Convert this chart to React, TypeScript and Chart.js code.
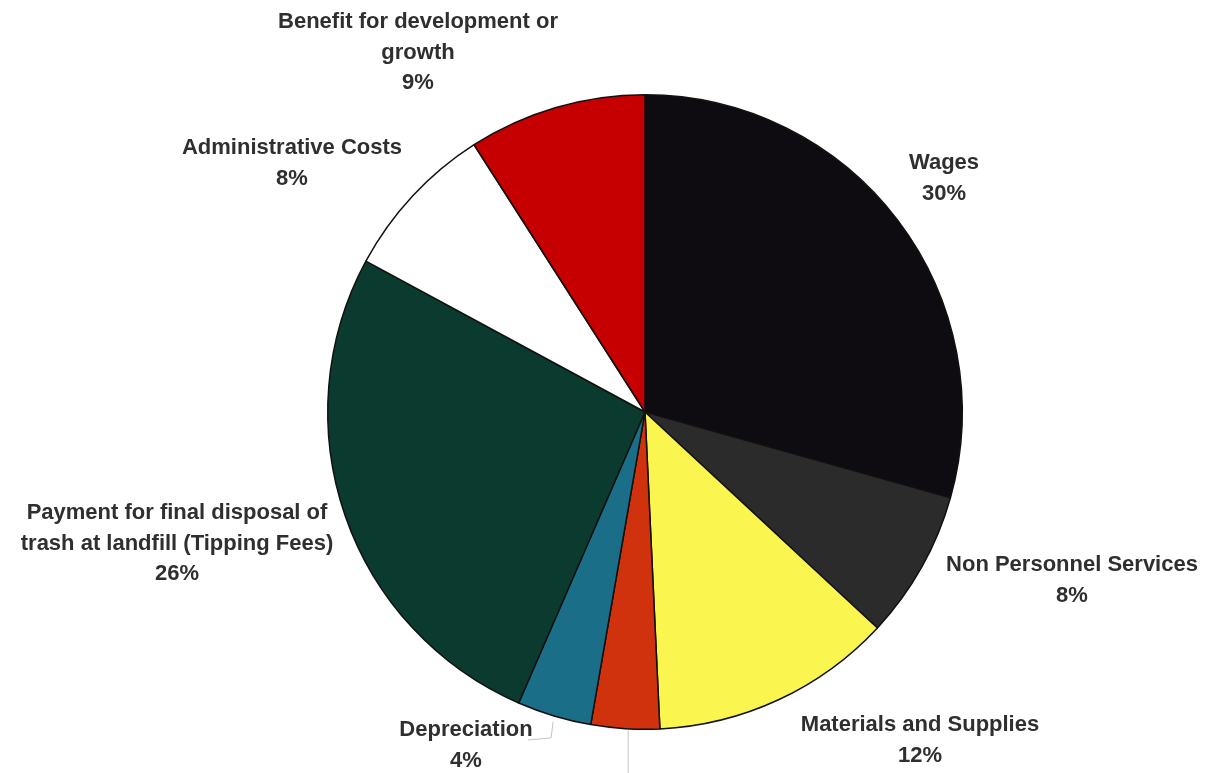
import React, { useEffect, useRef } from "react";
import { Chart, registerables } from "chart.js";

Chart.register(...registerables);

// ---- data ----
const CATEGORIES = [
  "Wages",
  "Non Personnel Services",
  "Materials and Supplies",
  "Other",
  "Depreciation",
  "Payment for final disposal of trash at landfill (Tipping Fees)",
  "Administrative Costs",
  "Benefit for development or growth",
];
const VALUES = [29.5, 7.6, 12.4, 3.5, 3.8, 26.5, 8.1, 9.1];
const PCT_LABELS = ["30%", "8%", "12%", "", "4%", "26%", "8%", "9%"];
const LABEL_LINES: string[][] = [
  ["Wages"],
  ["Non Personnel Services"],
  ["Materials and Supplies"],
  [],
  ["Depreciation"],
  ["Payment for final disposal of", "trash at landfill (Tipping Fees)"],
  ["Administrative Costs"],
  ["Benefit for development or", "growth"],
];
const COLORS = [
  "#0e0c11",
  "#2b2b2b",
  "#fbf550",
  "#d0320e",
  "#1b6e87",
  "#0b3a2f",
  "#ffffff",
  "#c60000",
];

// ---- label layout (text anchors: center x, first-line middle y) ----
const LABEL_ANCHORS: ([number, number] | null)[] = [
  [944, 163],
  [1072, 565],
  [920, 725],
  null,
  [466, 730],
  [177, 513],
  [292, 148],
  [418, 22],
];
const LINE_HEIGHT = 30.5;

const labelPlugin = {
  id: "outsideLabels",
  afterDatasetsDraw(chart: any) {
    const ctx = chart.ctx as CanvasRenderingContext2D;
    const meta = chart.getDatasetMeta(0);
    ctx.save();

    // leader lines
    ctx.strokeStyle = "#c4c4c4";
    ctx.lineWidth = 1;
    meta.data.forEach((arc: any, i: number) => {
      const mid = (arc.startAngle + arc.endAngle) / 2;
      const px = arc.x + Math.cos(mid) * arc.outerRadius;
      const py = arc.y + Math.sin(mid) * arc.outerRadius;
      if (i === 3) {
        ctx.beginPath();
        ctx.moveTo(px + 3, py + 2);
        ctx.lineTo(px + 3, chart.height);
        ctx.stroke();
      }
      if (i === 4) {
        ctx.beginPath();
        ctx.moveTo(px - 1, py + 6);
        ctx.lineTo(px - 3, py + 22);
        ctx.lineTo(px - 26, py + 24);
        ctx.stroke();
      }
    });

    ctx.fillStyle = "#2f2f2f";
    ctx.font = "bold 22px 'Liberation Sans', Arial, sans-serif";
    ctx.textAlign = "center";
    ctx.textBaseline = "middle";
    LABEL_LINES.forEach((lines, i) => {
      const a = LABEL_ANCHORS[i];
      if (!a) return;
      const all = [...lines, PCT_LABELS[i]];
      all.forEach((t, k) => {
        ctx.fillText(t, a[0], a[1] + k * LINE_HEIGHT);
      });
    });
    ctx.restore();
  },
};

export default function App() {
  const ref = useRef<HTMLCanvasElement | null>(null);

  useEffect(() => {
    if (!ref.current) return;
    const chart = new Chart(ref.current, {
      type: "pie",
      data: {
        labels: CATEGORIES,
        datasets: [
          {
            data: VALUES,
            backgroundColor: COLORS,
            borderColor: "#111111",
            borderWidth: 1.5,
            hoverOffset: 0,
          },
        ],
      },
      options: {
        responsive: false,
        animation: false,
        events: [],
        layout: { padding: { left: 200, right: 120, top: 94, bottom: 43 } },
        plugins: {
          legend: { display: false },
          tooltip: { enabled: false },
          title: { display: false },
        },
      },
      plugins: [labelPlugin],
    });
    return () => chart.destroy();
  }, []);

  return (
    <div
      style={{
        position: "absolute",
        left: 0,
        top: 0,
        width: 1210,
        height: 773,
        background: "#ffffff",
      }}
    >
      <canvas ref={ref} width={1210} height={773} />
    </div>
  );
}
